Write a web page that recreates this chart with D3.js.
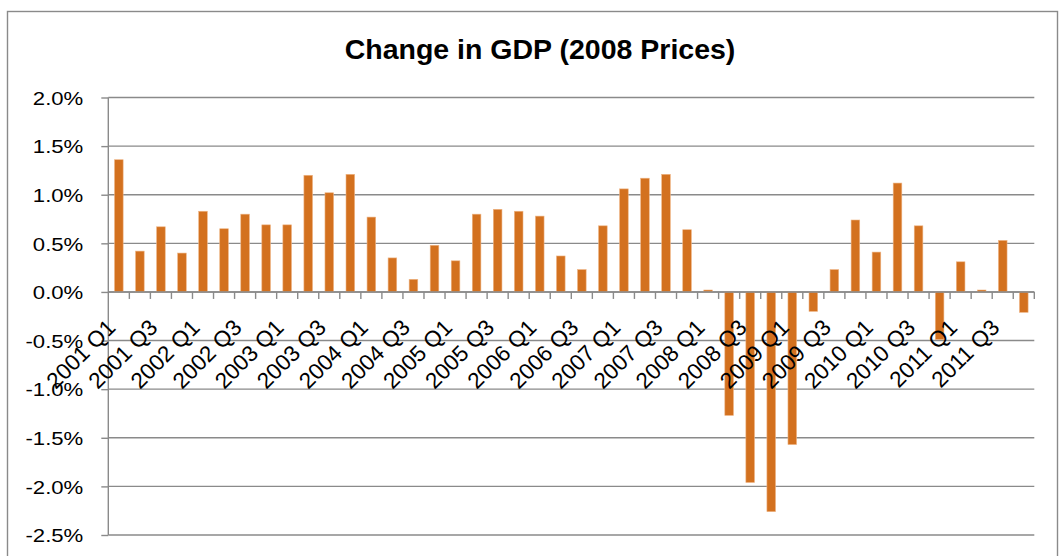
<!DOCTYPE html>
<html>
<head>
<meta charset="utf-8">
<script src="https://cdn.jsdelivr.net/npm/d3@7"></script>
<style>
  body { margin: 0; background: #fff; }
  svg { display: block; font-family: "Liberation Sans", Arial, sans-serif; }
  .grid line { stroke: #8a8a8a; stroke-width: 1.4; }
  .axis path, .axis line { stroke: #8a8a8a; stroke-width: 1.4; }
  .axis text { fill: #000; }
</style>
</head>
<body>
<svg width="1064" height="556"></svg>
<script>
// quarters 2001 Q1 .. 2011 Q4
var years = [2001, 2002, 2003, 2004, 2005, 2006, 2007, 2008, 2009, 2010, 2011];
var quarterNames = ['Q1', 'Q2', 'Q3', 'Q4'];
var categories = [];
years.forEach(function(y) {
    quarterNames.forEach(function(q) { categories.push(y + ' ' + q); });
});

// quarter on quarter change in GDP, %
var gdpChange = [1.36, 0.42, 0.67, 0.40, 0.83, 0.65, 0.80, 0.69, 0.69, 1.20,
                 1.02, 1.21, 0.77, 0.35, 0.13, 0.48, 0.32, 0.80, 0.85, 0.83,
                 0.78, 0.37, 0.23, 0.68, 1.06, 1.17, 1.21, 0.64, 0.02, -1.27,
                 -1.96, -2.26, -1.57, -0.20, 0.23, 0.74, 0.41, 1.12, 0.68, -0.49,
                 0.31, 0.02, 0.53, -0.21];

var yTicks = [-2.5, -2.0, -1.5, -1.0, -0.5, 0.0, 0.5, 1.0, 1.5, 2.0];
var titleText = 'Change in GDP (2008 Prices)';

var svg = d3.select('svg');

// layout
var plot = {l: 108.3, r: 1034.3, t: 97.5, b: 535};

// chart frame
svg.append('rect')
    .attr('x', 7.5).attr('y', 11.5)
    .attr('width', 1050).attr('height', 600)
    .attr('fill', 'none')
    .attr('stroke', '#8a8a8a')
    .attr('stroke-width', 1.4);

svg.append('text')
    .attr('x', 540).attr('y', 58.5)
    .attr('text-anchor', 'middle')
    .style('font-size', '28.5px')
    .style('font-weight', 'bold')
    .text(titleText);

var xScale = d3.scaleBand()
    .domain(categories)
    .range([plot.l, plot.r])
    .paddingInner(0.59)
    .paddingOuter(0.295);

var xBand = d3.scaleBand().domain(categories).range([plot.l, plot.r]);

var yScale = d3.scaleLinear()
    .domain([-2.5, 2.0])
    .range([plot.b, plot.t]);

// gridlines
svg.append('g')
    .attr('class', 'grid')
    .selectAll('line')
    .data(yTicks)
    .enter()
    .append('line')
    .attr('x1', plot.l).attr('x2', plot.r)
    .attr('y1', function(d) { return yScale(d); })
    .attr('y2', function(d) { return yScale(d); });

// bars
svg.append('g')
    .selectAll('rect')
    .data(gdpChange)
    .enter()
    .append('rect')
    .attr('x', function(d, i) { return xScale(categories[i]); })
    .attr('width', xScale.bandwidth())
    .attr('y', function(d) { return yScale(Math.max(0, d)); })
    .attr('height', function(d) { return Math.abs(yScale(d) - yScale(0)); })
    .attr('fill', '#d3711f')
    .attr('stroke', '#eeb585')
    .attr('stroke-width', 0.6);

// y axis, plain hyphen for minus like the original
var pct = d3.formatLocale({decimal: '.', thousands: ',', grouping: [3], currency: ['', ''], minus: '-'}).format('.1%');
var yAxis = d3.axisLeft(yScale)
    .tickValues(yTicks)
    .tickSize(7)
    .tickSizeOuter(0)
    .tickFormat(function(d) { return pct(d / 100); });

var yG = svg.append('g')
    .attr('class', 'axis')
    .attr('transform', 'translate(' + plot.l + ',0)')
    .call(yAxis);
yG.select('.domain').attr('d', 'M0,' + plot.t + 'V' + plot.b);
yG.selectAll('text')
    .attr('x', 0)
    .attr('dy', '0.36em')
    .attr('text-anchor', 'end')
    .style('font-size', '18.6px')
    .attr('transform', 'translate(-25,0) scale(1.19,1)');

// x axis at zero, ticks between categories
var zeroY = yScale(0);
var xG = svg.append('g').attr('class', 'axis');
xG.append('line')
    .attr('x1', plot.l).attr('x2', plot.r)
    .attr('y1', zeroY).attr('y2', zeroY);
xG.selectAll('.tick')
    .data(categories)
    .enter()
    .append('line')
    .attr('class', 'tick')
    .attr('x1', function(d) { return xBand(d) + xBand.bandwidth(); })
    .attr('x2', function(d) { return xBand(d) + xBand.bandwidth(); })
    .attr('y1', zeroY).attr('y2', zeroY + 7);

// category labels (every other quarter)
var labelCats = categories.filter(function(d, i) { return i % 2 === 0; });
xG.selectAll('.lbl')
    .data(labelCats)
    .enter()
    .append('text')
    .attr('class', 'lbl')
    .attr('text-anchor', 'end')
    .style('font-size', '22.5px')
    .attr('transform', function(d) {
        var cx = xBand(d) + xBand.bandwidth() / 2 - 2;
        return 'translate(' + [cx, zeroY + 37] + ') rotate(-45)';
    })
    .text(function(d) { return d; });
</script>
</body>
</html>
